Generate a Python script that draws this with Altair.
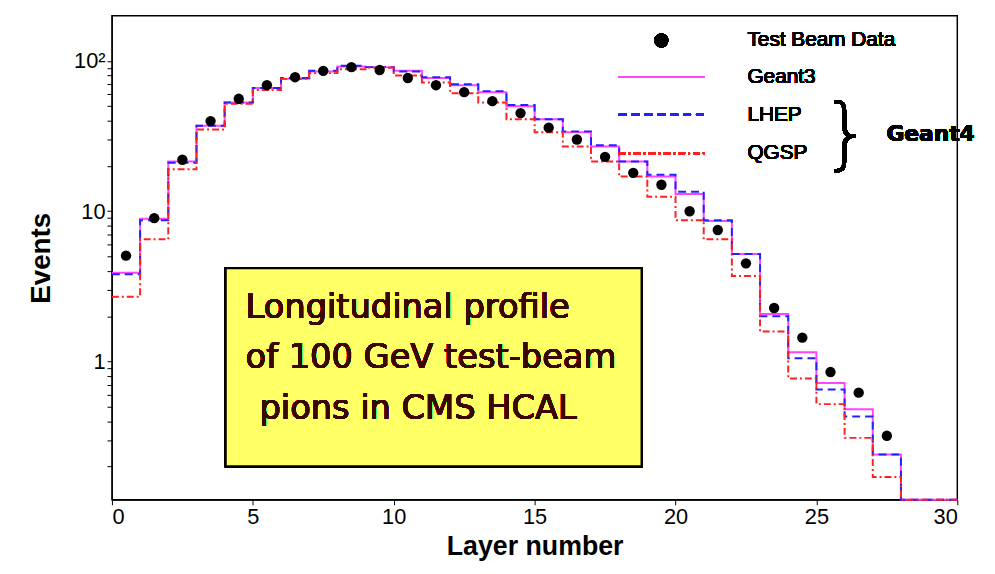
import altair as alt
import pandas as pd

layers = list(range(31))
data_x = [i + 0.5 for i in range(28)]
data_y = [5.06, 9.0, 22, 39.8, 56, 69, 78, 86, 91, 87, 77, 69, 62, 54, 45, 36,
          30, 23, 18, 15, 10, 7.5, 4.5, 2.27, 1.44, 0.85, 0.62, 0.32]
geant3 = [3.9, 8.9, 21.4, 37, 53, 66, 76, 85, 92, 91, 86, 77, 69, 62, 50, 41,
          33.5, 27, 21.4, 17, 13, 8.6, 5.2, 2.07, 1.15, 0.72, 0.48, 0.24, 0.01, 0.01]
lhep = [3.8, 8.7, 21, 37, 53, 66, 77, 86, 93, 91, 85, 78, 70, 63, 51, 41,
        34, 27.5, 21.4, 17.5, 13.5, 8.7, 5.2, 2.0, 1.05, 0.65, 0.43, 0.24, 0.01, 0.01]
qgsp = [2.7, 6.5, 19, 35, 52, 64, 76, 83, 88, 90, 80, 72, 61, 53, 41, 33.5,
        27, 21.4, 17, 12.5, 8.7, 6.5, 3.7, 1.58, 0.77, 0.52, 0.31, 0.17, 0.01, 0.01]

rows = []
for name, vals in [("Geant3", geant3), ("LHEP", lhep), ("QGSP", qgsp)]:
    for i, v in enumerate(vals + [vals[-1]]):
        rows.append({"series": name, "x": layers[i], "y": v})
hist = pd.DataFrame(rows)
pts = pd.DataFrame({"x": data_x, "y": data_y})

W, H = 854, 489
xs = alt.Scale(domain=[0, 30], nice=False)
ys = alt.Scale(type="log", domain=[0.12, 200], clamp=True, nice=False)
font = "Liberation Sans"

ytick_vals = [0.2, 0.3, 0.4, 0.5, 0.6, 0.7, 0.8, 0.9, 1, 2, 3, 4, 5, 6, 7, 8, 9,
              10, 20, 30, 40, 50, 60, 70, 80, 90, 100]

color = alt.Scale(domain=["Geant3", "LHEP", "QGSP"], range=["#ff44ff", "#2222ff", "#ff2020"])
dash = alt.Scale(domain=["Geant3", "LHEP", "QGSP"], range=[[1, 0], [8, 5], [7, 3, 2, 3]])

lines = alt.Chart(hist).mark_line(interpolate="step-after", strokeWidth=2).encode(
    x=alt.X("x:Q", scale=xs, title="Layer number",
            axis=alt.Axis(values=list(range(0, 31, 5)), grid=False,
                          titleFontSize=27, titleFont=font, titleFontWeight="bold",
                          labelFontSize=22, labelFont=font, labelColor="black",
                          domainColor="black", tickColor="black", titlePadding=6)),
    y=alt.Y("y:Q", scale=ys, title="Events",
            axis=alt.Axis(values=ytick_vals, grid=False,
                          labelExpr="datum.value == 100 ? '10²' : datum.value == 10 ? '10' : datum.value == 1 ? '1' : ''",
                          titleFontSize=28, titleFont=font, titleFontWeight="bold",
                          labelFontSize=22, labelFont=font, labelColor="black",
                          domainColor="black", tickColor="black", titlePadding=18)),
    color=alt.Color("series:N", scale=color, legend=None),
    strokeDash=alt.StrokeDash("series:N", scale=dash, legend=None),
    detail="series:N",
)

dots = alt.Chart(pts).mark_circle(size=110, color="black", opacity=1).encode(
    x=alt.X("x:Q", scale=xs), y=alt.Y("y:Q", scale=ys))

box = alt.Chart(pts).mark_rect(fill="#ffff66", stroke="black", strokeWidth=2).encode(
    x=alt.value(115), x2=alt.value(535), y=alt.value(255), y2=alt.value(455))

box_lines = ["Longitudinal profile", "of 100 GeV test-beam", "pions in CMS HCAL"]
box_x = [135, 135, 149]
box_text = alt.layer(*[
    alt.Chart(pts).mark_text(text=t, align="left", baseline="alphabetic", fontSize=34,
                             font="DejaVu Sans", color="#3a0800").encode(
        x=alt.value(box_x[i]), y=alt.value(305 + 51 * i))
    for i, t in enumerate(box_lines)
])

leg_names = ["Geant3", "LHEP", "QGSP"]
leg_y = [62, 100, 139]
leg = [alt.Chart(pts).mark_circle(size=200, color="black", opacity=1).encode(
           x=alt.value(555), y=alt.value(25)),
       alt.Chart(pts).mark_text(text="Test Beam Data", align="left", fontSize=21, font=font).encode(
           x=alt.value(642), y=alt.value(25))]
for n, yy in zip(leg_names, leg_y):
    leg.append(alt.Chart(pts).mark_rule(strokeWidth=2, color=color.range[leg_names.index(n)],
                                        strokeDash=dash.range[leg_names.index(n)]).encode(
        x=alt.value(512), x2=alt.value(599), y=alt.value(yy)))
    leg.append(alt.Chart(pts).mark_text(text=n, align="left", fontSize=21, font=font).encode(
        x=alt.value(642), y=alt.value(yy)))
leg.append(alt.Chart(pts).mark_text(text="}", fontSize=80, font="DejaVu Sans", fontWeight=100).encode(
    x=alt.value(742), y=alt.value(122)))
leg.append(alt.Chart(pts).mark_text(text="Geant4", fontSize=22, font="DejaVu Sans", fontWeight="bold").encode(
    x=alt.value(827), y=alt.value(120)))

chart = alt.layer(lines, dots, box, box_text, *leg).properties(
    width=W, height=H, autosize="none",
    padding={"left": 105, "top": 5, "right": 30, "bottom": 60},
).configure_view(stroke="black", strokeWidth=1.5)

chart.save("out.html", embed_options={"renderer": "svg", "actions": False})
